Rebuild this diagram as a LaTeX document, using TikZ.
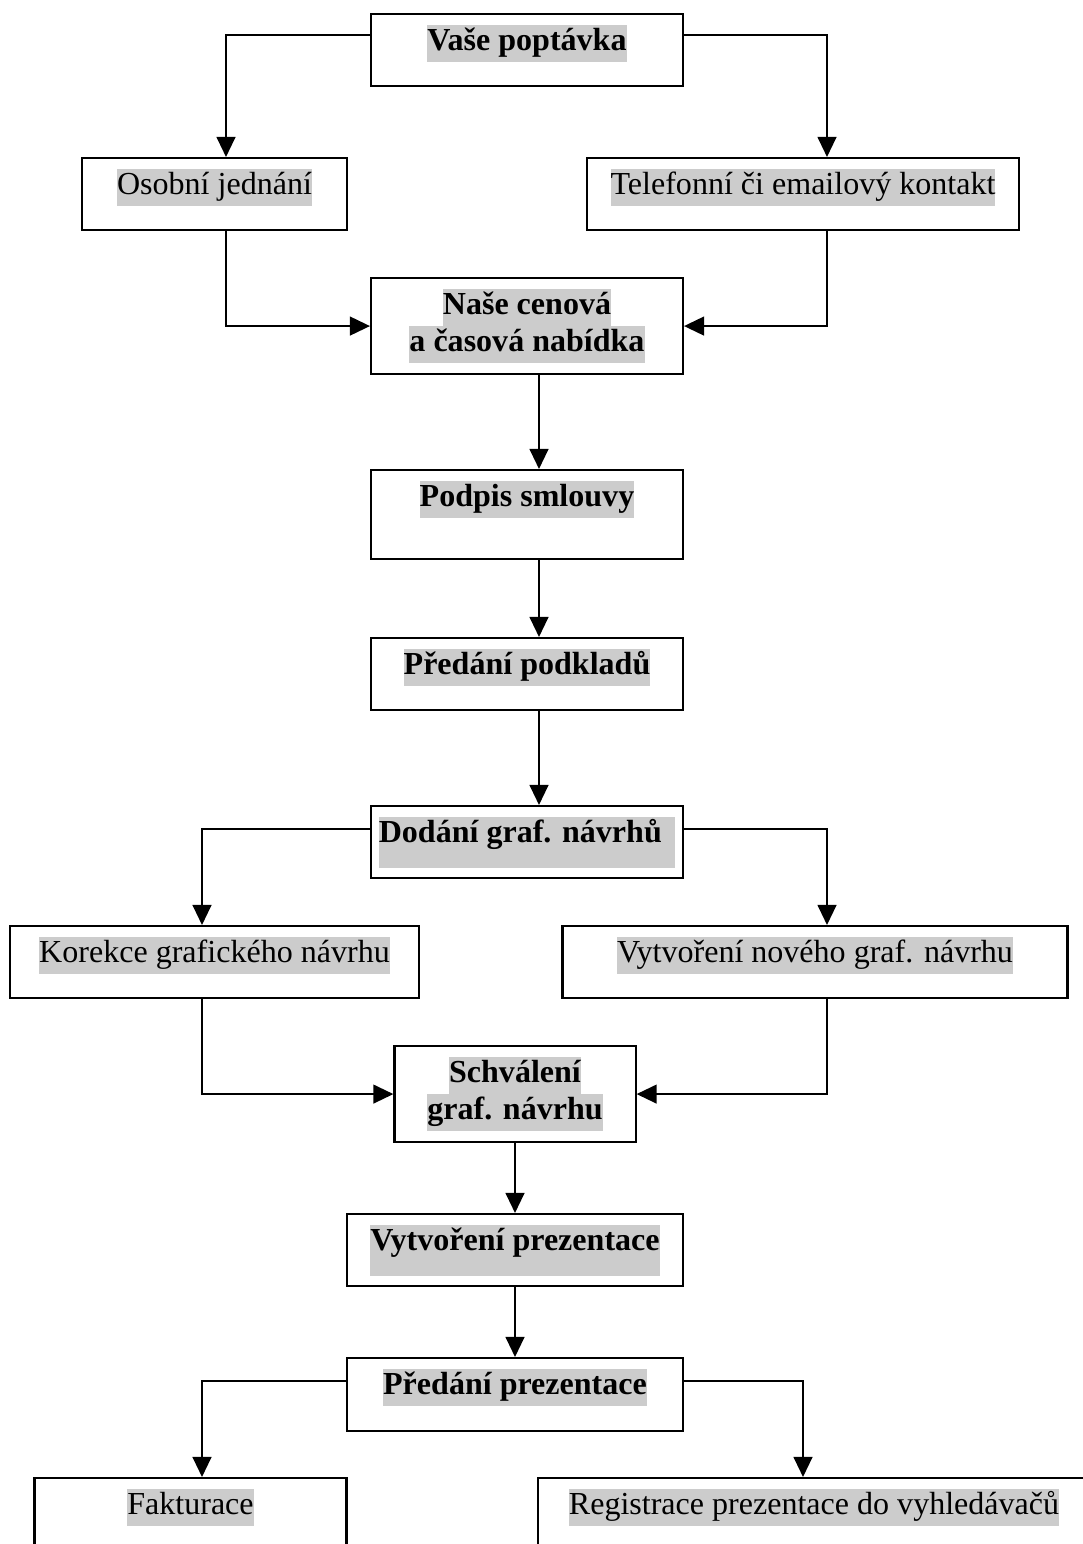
\documentclass[tikz,border=0pt]{standalone}
\usepackage{fontspec}
\setmainfont{Liberation Serif}
\usetikzlibrary{arrows.meta}

\definecolor{hlgray}{HTML}{CCCCCC}
\newcommand{\hl}[1]{{\setlength{\fboxsep}{0pt}\colorbox{hlgray}{\strut #1}}}
\newcommand{\hlx}[1]{{\setlength{\fboxsep}{0pt}\colorbox{hlgray}{\rule[-9.3pt]{0pt}{19pt}#1}}}

\begin{document}
\begin{tikzpicture}[
    x=0.3745pt, y=-0.3745pt,
    every node/.style={font=\fontsize{12}{13.8}\selectfont},
    box/.style={draw, line width=0.8pt, inner sep=0pt, anchor=north, align=center,
        minimum width=116.8pt, text height=13.8pt, text depth=13.2pt},
    twoline/.style={text height=27.6pt, text depth=8.35pt},
    main/.style={box, font=\fontsize{12}{13.8}\selectfont\bfseries},
    link/.style={line width=0.8pt},
    arrow/.style={link, -{Triangle[length=7.5pt,width=7pt]}}
]
    \useasboundingbox (0,0) rectangle (1082,1544);

    % Inquiry and first contact
    \node[main] (vase) at (527,13) {\hl{Vaše poptávka}};
    \node[box, minimum width=99.2pt] (osobni) at (214.5,157) {\hl{Osobní jednání}};
    \node[box, minimum width=161.8pt] (telefon) at (803,157) {\hl{Telefonní či emailový kontakt}};
    \node[main, twoline] (nase) at (527,277) {\hl{Naše cenová}\\\hl{a časová nabídka}};

    % Contract and materials
    \node[main, text depth=19.5pt] (podpis) at (527,469) {\hl{Podpis smlouvy}};
    \node[main] (podklady) at (527,637) {\hl{Předání podkladů}};
    \node[main] (dodani) at (527,805) {\hlx{Dodání graf. návrhů\hspace{5pt}}};

    % Design loop
    \node[box, minimum width=153.2pt] (korekce) at (214.5,925) {\hl{Korekce grafického návrhu}};
    \node[box, minimum width=189.1pt] (novy) at (815,925) {\hl{Vytvoření nového graf. návrhu}};
    \node[main, twoline, minimum width=90.3pt] (schvaleni) at (515,1045) {\hl{Schválení}\\\hl{graf. návrhu}};

    % Presentation
    \node[main, minimum width=125.8pt] (vytvoreni) at (515,1213) {\hlx{Vytvoření prezentace}};
    \node[main, minimum width=126pt, text depth=13.5pt] (predani) at (515,1357) {\hl{Předání prezentace}};
    \node[box] (faktura) at (190.5,1477) {\hl{Fakturace}};
    \node[box, minimum width=206.7pt] (registrace) at (814,1477) {\hl{Registrace prezentace do vyhledávačů}};

    % Connectors
    \draw[arrow] (vase.west |- 0,35) -| (osobni.north -| 226,0);
    \draw[arrow] (vase.east |- 0,35) -| (telefon.north -| 827,0);
    \draw[arrow] (osobni.south -| 226,0) |- (nase.west);
    \draw[arrow] (telefon.south -| 827,0) |- (nase.east);
    \draw[arrow] (nase.south -| 539,0) -- (podpis.north -| 539,0);
    \draw[arrow] (podpis.south -| 539,0) -- (podklady.north -| 539,0);
    \draw[arrow] (podklady.south -| 539,0) -- (dodani.north -| 539,0);
    \draw[arrow] (dodani.west |- 0,829) -| (korekce.north -| 202,0);
    \draw[arrow] (dodani.east |- 0,829) -| (novy.north -| 827,0);
    \draw[arrow] (korekce.south -| 202,0) |- (schvaleni.west);
    \draw[arrow] (novy.south -| 827,0) |- (schvaleni.east);
    \draw[arrow] (schvaleni.south) -- (vytvoreni.north);
    \draw[arrow] (vytvoreni.south) -- (predani.north);
    \draw[arrow] (predani.west |- 0,1381) -| (faktura.north -| 202,0);
    \draw[arrow] (predani.east |- 0,1381) -| (registrace.north -| 803,0);
\end{tikzpicture}
\end{document}
